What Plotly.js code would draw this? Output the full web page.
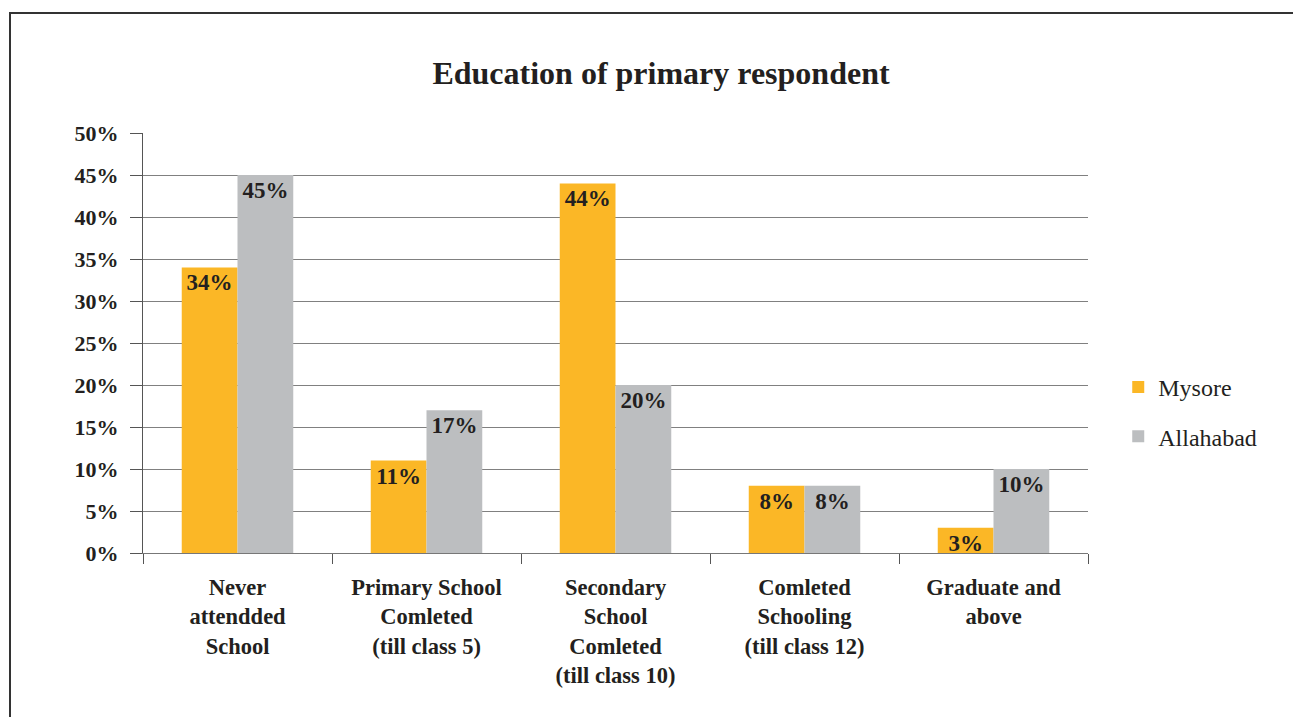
<!DOCTYPE html>
<html>
<head>
<meta charset="utf-8">
<script src="https://cdn.plot.ly/plotly-3.0.1.min.js"></script>
<style>
html,body{margin:0;padding:0;background:#fff;}
#chart{width:1293px;height:717px;}
</style>
</head>
<body>
<div id="chart"></div>
<script>
const categories = [
  "Never<br>attendded<br>School",
  "Primary School<br>Comleted<br>(till class 5)",
  "Secondary<br>School<br>Comleted<br>(till class 10)",
  "Comleted<br>Schooling<br>(till class 12)",
  "Graduate and<br>above"
];
const seriesNames = ["Mysore", "Allahabad"];
const mysore = [0.34, 0.11, 0.44, 0.08, 0.03];
const allahabad = [0.45, 0.17, 0.20, 0.08, 0.10];
const colors = ["#FBB726", "#BCBEC0"];

const FONT = "'Liberation Serif', 'DejaVu Serif', serif";

function makeTrace(name, vals, color, grp) {
  return {
    type: "bar",
    name: name,
    x: categories,
    y: vals,
    legendgroup: grp,
    marker: {color: color, line: {width: 0}},
    text: vals.map(v => Math.round(v * 100) + "%"),
    textposition: "inside",
    insidetextanchor: "end",
    textangle: 0,
    textfont: {family: FONT, size: 23, color: "#231f20", weight: "bold"},
    hoverinfo: "skip"
  };
}

const data = [
  makeTrace(seriesNames[0], mysore, colors[0], "g1"),
  makeTrace(seriesNames[1], allahabad, colors[1], "g2")
];

const layout = {
  width: 1293,
  height: 717,
  paper_bgcolor: "#ffffff",
  plot_bgcolor: "#ffffff",
  margin: {l: 143, r: 205, t: 133, b: 164, pad: 0},
  font: {family: FONT, color: "#231f20"},
  title: {
    text: "Education of primary respondent",
    font: {family: FONT, size: 32, color: "#231f20", weight: "bold"},
    x: 661 / 1293, xref: "container", xanchor: "center",
    y: 1 - 73 / 717, yref: "container", yanchor: "middle"
  },
  barmode: "group",
  bargap: 0.41,
  bargroupgap: 0,
  uniformtext: {mode: "show", minsize: 23},
  showlegend: true,
  legend: {
    x: 1.032, xanchor: "left",
    y: 0.336, yanchor: "middle",
    font: {family: FONT, size: 24, color: "#231f20"},
    tracegroupgap: 15,
    bgcolor: "rgba(0,0,0,0)"
  },
  xaxis: {
    type: "category",
    tickson: "boundaries",
    ticks: "outside",
    ticklen: 10,
    tickcolor: "#555",
    tickwidth: 1,
    showgrid: false,
    showline: true,
    linecolor: "#777",
    linewidth: 1,
    tickfont: {family: FONT, size: 22.5, color: "#231f20", weight: "bold"},
    ticklabelstandoff: 14,
    automargin: false
  },
  yaxis: {
    range: [0, 0.5],
    dtick: 0.05,
    tick0: 0,
    tickformat: ".0%",
    ticks: "outside",
    ticklen: 12,
    tickcolor: "#555",
    tickwidth: 1,
    showgrid: true,
    gridcolor: "#808080",
    gridwidth: 1,
    zeroline: true,
    zerolinecolor: "#808080",
    zerolinewidth: 1,
    showline: true,
    linecolor: "#555",
    linewidth: 1,
    tickfont: {family: FONT, size: 22, color: "#231f20", weight: "bold"},
    ticklabelstandoff: 7,
    automargin: false
  },
  shapes: [{
    type: "rect",
    xref: "paper", yref: "paper",
    x0: (10 - 143) / 945, x1: 1.3,
    y0: -0.5, y1: (553 - 13) / 420,
    line: {color: "#333", width: 2},
    fillcolor: "rgba(0,0,0,0)",
    layer: "below"
  }]
};

Plotly.newPlot("chart", data, layout, {displayModeBar: false, staticPlot: true});
</script>
</body>
</html>
